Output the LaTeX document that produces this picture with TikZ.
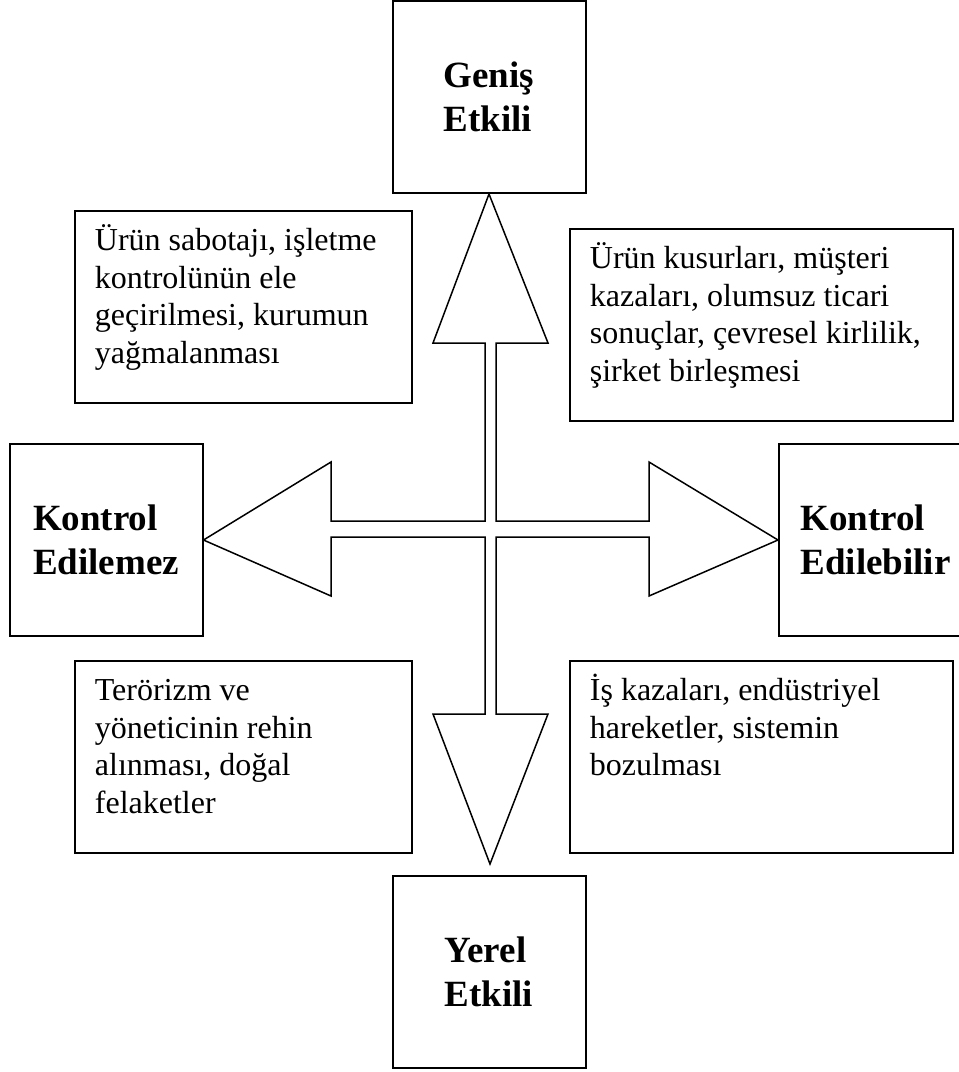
\documentclass[tikz,border=0pt]{standalone}
\usepackage{fontspec}
\setmainfont{Liberation Serif}
\usetikzlibrary{positioning, calc}

\newcommand{\infotext}[2]{\parbox[c][96pt][t]{#1}{\rule{0pt}{20pt}#2}}

\begin{document}
\begin{tikzpicture}[
        x=0.5pt, y=-0.5pt,
        keybox/.style={draw, rectangle, line width=1pt, minimum width=96.5pt, minimum height=96pt, align=left, font=\fontsize{18.5}{22}\selectfont\bfseries},
        infobox/.style={draw, rectangle, line width=0.9pt, anchor=north west, inner xsep=10pt, inner ysep=0pt, font=\fontsize{16}{18.7}\selectfont},
        arrowline/.style={line width=0.75pt, line join=miter}
    ]
    \useasboundingbox (0,0) rectangle (959,1072);

    % The four end boxes
    \node[keybox] (wide) at (489,97) {Geniş\\Etkili};
    \node[keybox] (local) at (489,972) {Yerel\\Etkili};
    \node[keybox] (uncontrolled) at (106,540) {Kontrol\\Edilemez};
    \node[keybox] (controlled) at (875.5,540) {Kontrol\\Edilebilir};

    % The example boxes
    \node[infobox] (sabotage) at (74,210) {\infotext{148.5pt}{Ürün sabotajı, işletme\\kontrolünün ele\\geçirilmesi, kurumun\\yağmalanması}};
    \node[infobox] (defects) at (569,228) {\infotext{171.5pt}{Ürün kusurları, müşteri\\kazaları, olumsuz ticari\\sonuçlar, çevresel kirlilik,\\şirket birleşmesi}};
    \node[infobox] (terror) at (74,660) {\infotext{148.5pt}{Terörizm ve\\yöneticinin rehin\\alınması, doğal\\felaketler}};
    \node[infobox] (accidents) at (569,660) {\infotext{171.5pt}{İş kazaları, endüstriyel\\hareketler, sistemin\\bozulması}};

    % Four-way arrow
    \coordinate (downtip) at ($(local.north)+(1,-11)$);
    \draw[arrowline] (wide.south) -- (548,343) -- (496,343) -- (496,521) -- (649,521) -- (649,462)
        -- (controlled.west) -- (649,596) -- (649,537) -- (496,537) -- (496,714) -- (548,714)
        -- (downtip) -- (433,714) -- (485,714) -- (485,537) -- (331,537) -- (331,596)
        -- (uncontrolled.east) -- (331,462) -- (331,521) -- (485,521) -- (485,343) -- (433,343) -- cycle;

\end{tikzpicture}
\end{document}
